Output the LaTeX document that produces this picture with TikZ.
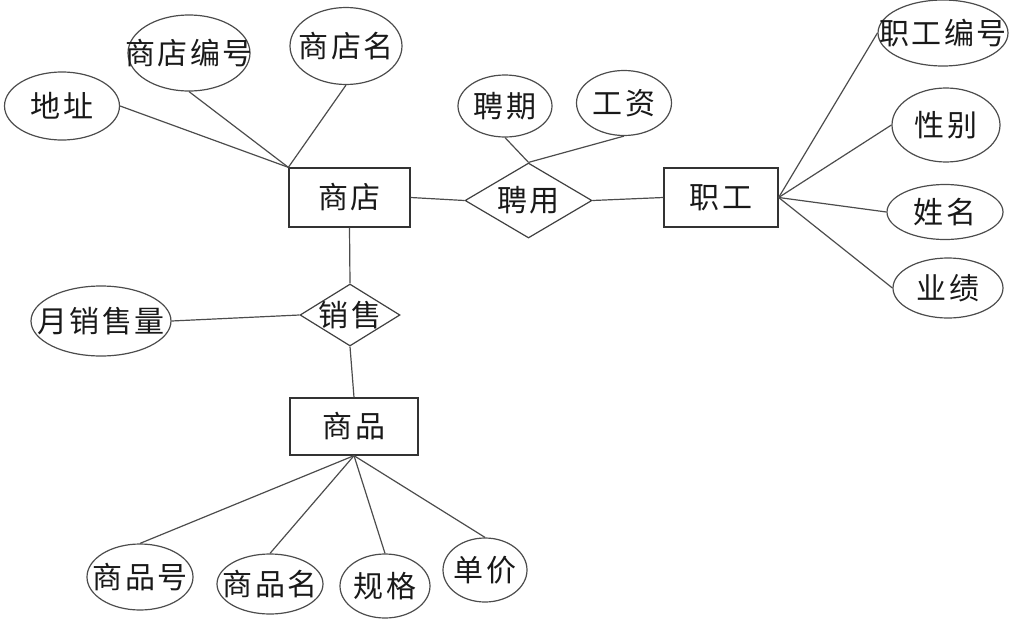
\documentclass[tikz,border=0pt]{standalone}
\usepackage{fontspec}
\newfontfamily\cjk[LetterSpace=8]{Noto Sans CJK SC}
\usetikzlibrary{shapes.geometric}
\newcommand{\zw}[1]{\makebox[0pt][c]{#1}}
\begin{document}
\begin{tikzpicture}[x=1pt,y=-1pt,
  every node/.style={font=\cjk\fontsize{30}{32}\selectfont, text=black!90, inner sep=0pt},
  ent/.style={draw=black!80, line width=1.3pt, rectangle},
  attr/.style={draw=black!70, line width=1.2pt, ellipse},
  rel/.style={draw=black!75, line width=1.2pt, diamond},
  conn/.style={draw=black!70, line width=1.2pt}]
\useasboundingbox (0,0) rectangle (1018,624);
% entities
\node[ent, minimum width=121pt, minimum height=59pt] (shop) at (349.5,197.5) {商店};
\node[ent, minimum width=114pt, minimum height=59pt] (emp) at (721,197.5) {职工};
\node[ent, minimum width=128pt, minimum height=57pt] (goods) at (354,426.5) {商品};
% relationships
\node[rel, minimum width=127pt, minimum height=75pt, aspect=1.7] (hire) at (528.5,200.5) {\zw{聘用}};
\node[rel, minimum width=100pt, minimum height=62pt, aspect=1.6] (sell) at (350,315) {\zw{销售}};
% shop attributes
\node[attr, minimum width=115pt, minimum height=68pt] (addr) at (62,106) {\zw{地址}};
\node[attr, minimum width=122pt, minimum height=76pt] (sid) at (189,53) {\zw{商店编号}};
\node[attr, minimum width=112pt, minimum height=77pt] (sname) at (346,46) {\zw{商店名}};
% hire attributes
\node[attr, minimum width=94pt, minimum height=62pt] (term) at (505,106) {\zw{聘期}};
\node[attr, minimum width=95pt, minimum height=65pt] (wage) at (624,103) {\zw{工资}};
% employee attributes
\node[attr, minimum width=130pt, minimum height=66pt] (eid) at (943,33) {\zw{职工编号}};
\node[attr, minimum width=108pt, minimum height=74pt] (sex) at (946,125) {\zw{性别}};
\node[attr, minimum width=116pt, minimum height=55pt] (ename) at (945,212) {\zw{姓名}};
\node[attr, minimum width=110pt, minimum height=60pt] (perf) at (948,288) {\zw{业绩}};
% sell attribute
\node[attr, minimum width=140pt, minimum height=70pt] (qty) at (101,321) {\zw{月销售量}};
% goods attributes
\node[attr, minimum width=106pt, minimum height=66pt] (gid) at (140,577) {\zw{商品号}};
\node[attr, minimum width=106pt, minimum height=60pt] (gname) at (270,584) {\zw{商品名}};
\node[attr, minimum width=90pt, minimum height=64pt] (spec) at (385,586) {\zw{规格}};
\node[attr, minimum width=84pt, minimum height=64pt] (price) at (485,570) {\zw{单价}};
% connectors
\draw[conn] (shop.north west) -- (addr.east);
\draw[conn] (shop.north west) -- (sid.south);
\draw[conn] (shop.north west) -- (sname.south);
\draw[conn] (shop.east) -- (hire.west);
\draw[conn] (hire.east) -- (emp.west);
\draw[conn] (hire.north) -- (term.south);
\draw[conn] (hire.north) -- (wage.south);
\draw[conn] (emp.east) -- (eid.west);
\draw[conn] (emp.east) -- (sex.west);
\draw[conn] (emp.east) -- (ename.west);
\draw[conn] (emp.east) -- (perf.west);
\draw[conn] (shop.south) -- (sell.north);
\draw[conn] (sell.west) -- (qty.east);
\draw[conn] (sell.south) -- (goods.north);
\draw[conn] (goods.south) -- (gid.north);
\draw[conn] (goods.south) -- (gname.north);
\draw[conn] (goods.south) -- (spec.north);
\draw[conn] (goods.south) -- (price.north);
\end{tikzpicture}
\end{document}
